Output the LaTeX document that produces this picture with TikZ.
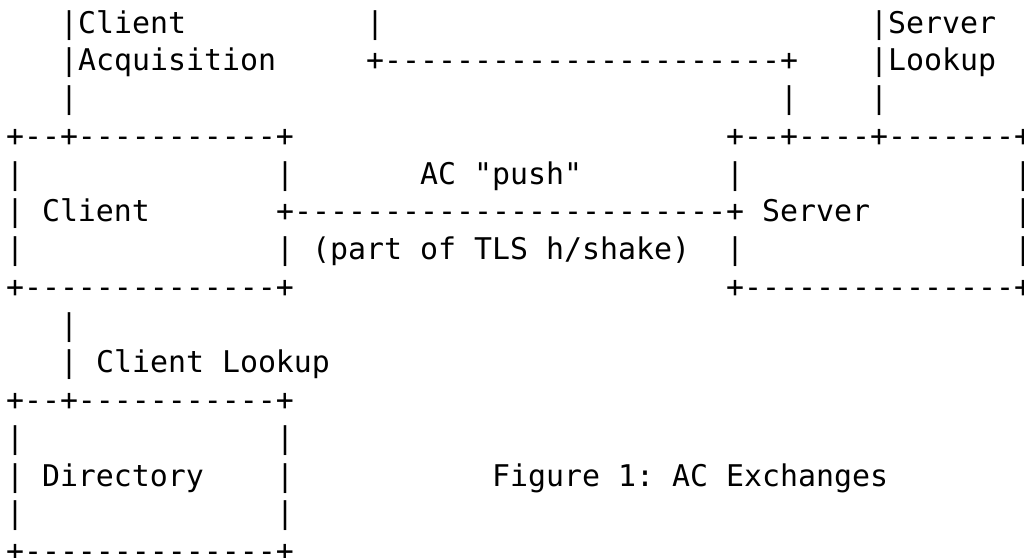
\documentclass[tikz,border=0pt]{standalone}
\usepackage{fontspec}
\setmonofont{DejaVu Sans Mono}
\newcommand{\asciifont}{\ttfamily\fontsize{29.9pt}{37.75pt}\selectfont}
% one character cell is 18pt wide, one text line is 37.75pt high
\newcommand{\cellx}[1]{6+18*#1}
\newcommand{\celly}[1]{33+37.75*#1}
\tikzset{
  ascii/.style={anchor=base west, inner sep=0pt, outer sep=0pt, font=\asciifont, text=black},
}
\begin{document}
\begin{tikzpicture}[x=1pt, y=-1pt]
  \useasboundingbox[fill=white] (0,0) rectangle (1024,557);

  % links above the boxes
  \node[ascii] (acqA)  at ({\cellx{3}},  {\celly{0}}) {|Client};
  \node[ascii] (pushA) at ({\cellx{20}}, {\celly{0}}) {|};
  \node[ascii] (srvA)  at ({\cellx{48}}, {\celly{0}}) {|Server};
  \node[ascii] (acqB)  at ({\cellx{3}},  {\celly{1}}) {|Acquisition};
  \node[ascii] (pushB) at ({\cellx{20}}, {\celly{1}}) {+----------------------+};
  \node[ascii] (srvB)  at ({\cellx{48}}, {\celly{1}}) {|Lookup};
  \node[ascii] (acqC)  at ({\cellx{3}},  {\celly{2}}) {|};
  \node[ascii] (pushC) at ({\cellx{43}}, {\celly{2}}) {|};
  \node[ascii] (srvC)  at ({\cellx{48}}, {\celly{2}}) {|};

  % Client box and Server box
  \node[ascii] (cliTop) at ({\cellx{0}},  {\celly{3}}) {+--+-----------+};
  \node[ascii] (srvTop) at ({\cellx{40}}, {\celly{3}}) {+--+----+-------+};
  \node[ascii] (cliL1)  at ({\cellx{0}},  {\celly{4}}) {|};
  \node[ascii] (cliR1)  at ({\cellx{15}}, {\celly{4}}) {|};
  \node[ascii] (acLbl)  at ({\cellx{23}}, {\celly{4}}) {AC "push"};
  \node[ascii] (srvL1)  at ({\cellx{40}}, {\celly{4}}) {|};
  \node[ascii] (srvR1)  at ({\cellx{56}}, {\celly{4}}) {|};
  \node[ascii] (cliLbl) at ({\cellx{0}},  {\celly{5}}) {| Client};
  \node[ascii] (acLink) at ({\cellx{15}}, {\celly{5}}) {+------------------------+};
  \node[ascii] (srvLbl) at ({\cellx{42}}, {\celly{5}}) {Server};
  \node[ascii] (srvR2)  at ({\cellx{56}}, {\celly{5}}) {|};
  \node[ascii] (cliL3)  at ({\cellx{0}},  {\celly{6}}) {|};
  \node[ascii] (tlsLbl) at ({\cellx{15}}, {\celly{6}}) {| (part of TLS h/shake)};
  \node[ascii] (srvL3)  at ({\cellx{40}}, {\celly{6}}) {|};
  \node[ascii] (srvR3)  at ({\cellx{56}}, {\celly{6}}) {|};
  \node[ascii] (cliBot) at ({\cellx{0}},  {\celly{7}}) {+--------------+};
  \node[ascii] (srvBot) at ({\cellx{40}}, {\celly{7}}) {+---------------+};

  % Client lookup link
  \node[ascii] (lkA)   at ({\cellx{3}}, {\celly{8}}) {|};
  \node[ascii] (lkLbl) at ({\cellx{3}}, {\celly{9}}) {| Client Lookup};

  % Directory box
  \node[ascii] (dirTop) at ({\cellx{0}},  {\celly{10}}) {+--+-----------+};
  \node[ascii] (dirL1)  at ({\cellx{0}},  {\celly{11}}) {|};
  \node[ascii] (dirR1)  at ({\cellx{15}}, {\celly{11}}) {|};
  \node[ascii] (dirLbl) at ({\cellx{0}},  {\celly{12}}) {| Directory};
  \node[ascii] (dirR2)  at ({\cellx{15}}, {\celly{12}}) {|};
  \node[ascii] (caption) at ({\cellx{27}}, {\celly{12}}) {Figure 1: AC Exchanges};
  \node[ascii] (dirL3)  at ({\cellx{0}},  {\celly{13}}) {|};
  \node[ascii] (dirR3)  at ({\cellx{15}}, {\celly{13}}) {|};
  \node[ascii] (dirBot) at ({\cellx{0}},  {\celly{14}}) {+--------------+};
\end{tikzpicture}
\end{document}
